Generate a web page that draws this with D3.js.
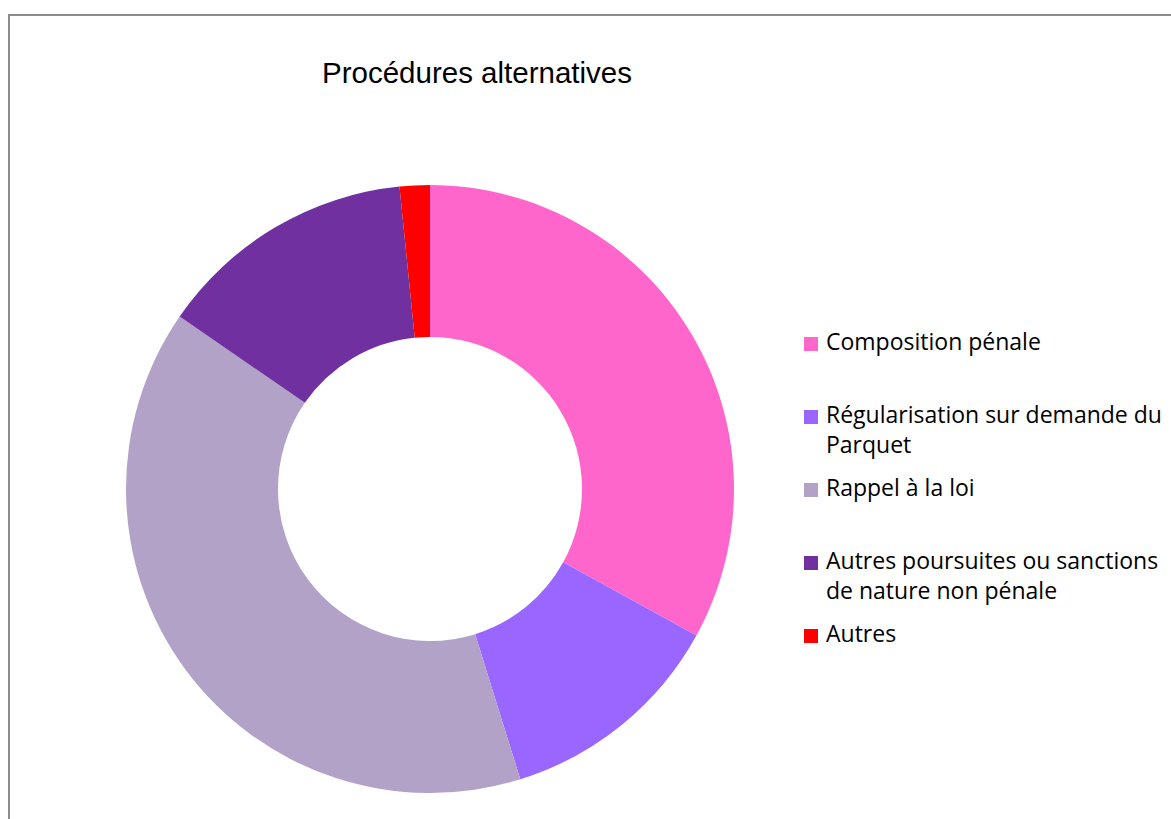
<!DOCTYPE html>
<html>
<head>
<meta charset="utf-8">
<script src="https://cdn.jsdelivr.net/npm/d3@7"></script>
<style>
  body { margin: 0; background: #fff; }
  svg { display: block; }
</style>
</head>
<body>
<div id="chart"></div>
<script>
// data (percent of total)
const categories = ["Composition pénale", "Régularisation sur demande du Parquet", "Rappel à la loi",
    "Autres poursuites ou sanctions de nature non pénale", "Autres"];
const values = [33.0, 12.2, 39.4, 13.8, 1.6];
const legendLines = [["Composition pénale"], ["Régularisation sur demande du", "Parquet"], ["Rappel à la loi"],
    ["Autres poursuites ou sanctions", "de nature non pénale"], ["Autres"]];
const colors = ["#FF66CC", "#9966FF", "#B3A2C7", "#7030A0", "#FF0000"];

const width = 1171;
const height = 819;

const svg = d3.select("#chart").append("svg")
    .attr("width", width)
    .attr("height", height);

// chart frame (only top and left edges visible)
svg.append("path")
    .attr("d", `M9,${height} V15 H${width}`)
    .attr("fill", "none")
    .attr("stroke", "#8c8c8c")
    .attr("stroke-width", 2);

// title
svg.append("text")
    .attr("x", 477)
    .attr("y", 83)
    .attr("text-anchor", "middle")
    .attr("font-family", "'Liberation Sans', Arial, sans-serif")
    .attr("font-size", "29.5px")
    .attr("fill", "#000")
    .text("Procédures alternatives");

// donut
const cx = 430, cy = 489;
const outerR = 304, innerR = 152;

const pie = d3.pie().sort(null).value(d => d);
const arc = d3.arc().innerRadius(innerR).outerRadius(outerR);

const color = d3.scaleOrdinal().domain(categories).range(colors);

svg.append("g")
    .attr("transform", `translate(${cx},${cy})`)
    .selectAll("path")
    .data(pie(values))
    .enter().append("path")
    .attr("d", arc)
    .attr("fill", (d, i) => color(categories[i]));

// legend
const legendY = d3.scalePoint().domain(categories).range([350, 642]);

const item = svg.append("g")
    .selectAll("g")
    .data(categories)
    .enter().append("g")
    .attr("transform", d => `translate(804,${legendY(d)})`);

item.append("rect")
    .attr("x", 0)
    .attr("y", -13)
    .attr("width", 14)
    .attr("height", 14)
    .attr("fill", d => color(d));

item.append("text")
    .attr("font-family", "'Open Sans', Lato, sans-serif")
    .attr("font-size", "23px")
    .attr("fill", "#000")
    .selectAll("tspan")
    .data((d, i) => legendLines[i])
    .enter().append("tspan")
    .attr("x", 22)
    .attr("dy", (d, j) => j === 0 ? 0 : 30)
    .text(d => d);
</script>
</body>
</html>
